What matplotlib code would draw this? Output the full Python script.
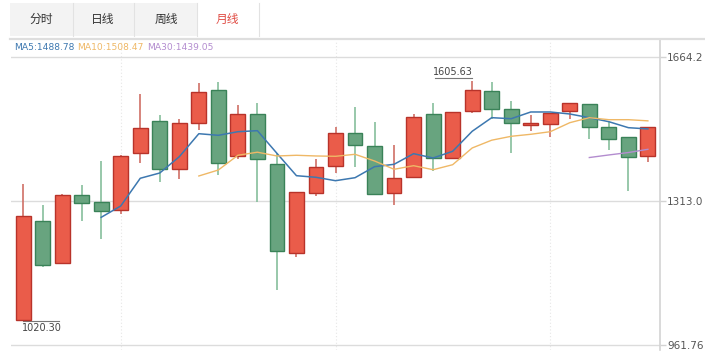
import matplotlib
matplotlib.use("Agg")
import matplotlib.pyplot as plt
from matplotlib.lines import Line2D
from matplotlib.patches import Rectangle

plt.rcParams['font.family'] = ['DejaVu Sans', 'Noto Sans CJK SC']

# monthly candles
opens = [1022.5, 1263.5, 1161.1, 1326.9, 1310.6, 1291.0, 1429.3, 1507.4, 1391.8, 1504.0,
         1583.7, 1422.8, 1525.2, 1403.2, 1186.9, 1333.2, 1398.4, 1478.1, 1447.1, 1333.2,
         1372.3, 1525.2, 1417.9, 1533.2, 1582.0, 1536.6, 1497.6, 1500.8, 1531.8, 1549.6,
         1492.7, 1468.4, 1422.8]
highs = [1354.5, 1302.5, 1329.0, 1351.3, 1409.8, 1424.0, 1574.0, 1522.0, 1512.3, 1600.1,
         1603.2, 1546.4, 1552.7, 1430.1, 1336.0, 1414.7, 1492.7, 1541.5, 1505.0, 1450.3,
         1525.2, 1552.7, 1531.0, 1605.63, 1604.0, 1557.6, 1523.5, 1528.4, 1552.0, 1550.5,
         1505.7, 1469.0, 1493.5]
lows = [1020.30, 1151.3, 1160.0, 1263.5, 1221.1, 1281.3, 1404.9, 1359.3, 1367.4, 1486.2,
        1377.1, 1416.2, 1310.6, 1095.9, 1177.2, 1325.2, 1382.0, 1395.2, 1326.9, 1302.5,
        1371.0, 1386.9, 1414.7, 1528.4, 1513.7, 1429.3, 1483.0, 1468.4, 1512.3, 1463.5,
        1437.4, 1336.7, 1408.1]
closes = [1276.4, 1157.6, 1328.4, 1307.4, 1289.3, 1422.8, 1491.0, 1391.8, 1504.0, 1578.8,
          1404.9, 1525.2, 1416.2, 1190.3, 1335.0, 1395.2, 1478.1, 1450.3, 1328.9, 1369.1,
          1518.6, 1417.9, 1530.1, 1583.7, 1538.1, 1502.5, 1504.0, 1526.9, 1551.3, 1494.2,
          1464.9, 1419.6, 1492.7]

# moving average lines as drawn in the picture (start at candle 5, 10 and 30)
ma5 = [1273.2, 1300.8, 1368.4, 1381.3, 1421.0, 1477.1, 1473.2, 1482.0, 1484.5, 1429.3,
       1374.7, 1370.8, 1362.5, 1369.8, 1396.7, 1402.5, 1428.4, 1417.9, 1434.2, 1483.0,
       1516.2, 1513.7, 1530.1, 1530.1, 1525.2, 1516.2, 1506.4, 1491.8, 1488.78]
ma10 = [1374.0, 1388.6, 1424.5, 1432.0, 1422.8, 1424.5, 1422.8, 1422.0, 1426.9, 1410.6,
        1390.3, 1399.1, 1389.3, 1401.5, 1442.3, 1461.3, 1470.8, 1475.7, 1482.0, 1504.0,
        1516.2, 1511.3, 1511.3, 1508.47]
ma30 = [1419.0, 1425.3, 1431.2, 1439.05]

tabs = ['分时', '日线', '周线', '月线']
y_ticks = [961.76, 1313.0, 1664.2]
y_labels = ['961.76', '1313.0', '1664.2']
ma_labels = ['MA5:1488.78', 'MA10:1508.47', 'MA30:1439.05']

RED, RED_EDGE, RED_WICK = '#ea5c4a', '#b8332a', '#cf7066'
GREEN, GREEN_EDGE, GREEN_WICK = '#68a47f', '#3a8258', '#86bf9c'
MA_COLORS = ['#3d78b0', '#efb866', '#b38ccf']

W, H = 705, 363
fig = plt.figure(figsize=(W / 100, H / 100), dpi=100)

def fx(px):
    return px / W

def fy(py):
    return 1 - py / H

# tab bar
fig.patches.append(Rectangle((fx(10), fy(36)), fx(249), 33 / H, transform=fig.transFigure,
                             facecolor='#f3f3f3', edgecolor='none'))
fig.patches.append(Rectangle((fx(197), fy(36)), fx(62), 33 / H, transform=fig.transFigure,
                             facecolor='white', edgecolor='none'))
for bx in [73, 134, 197, 259]:
    fig.add_artist(Line2D([fx(bx), fx(bx)], [fy(3), fy(36)], color='#e2e2e2', lw=0.8))
tab_x = [41, 103, 166, 227]
for i, t in enumerate(tabs):
    fig.text(fx(tab_x[i]), fy(19), t, ha='center', va='center', fontsize=8.5,
             family=['Noto Sans CJK SC', 'DejaVu Sans'],
             color='#e04b43' if i == 3 else '#333333')
fig.add_artist(Line2D([fx(10), fx(705)], [fy(38.5), fy(38.5)], color='#dedede', lw=1.6))

# legend line
lx = 14
for lab, col in zip(ma_labels, MA_COLORS):
    t = fig.text(fx(lx), fy(47), lab, ha='left', va='center', fontsize=6.6, color=col)
    fig.canvas.draw()
    bb = t.get_window_extent()
    lx += bb.width + 3

# price axes
ax = fig.add_axes([fx(11), fy(350), fx(660 - 11), (350 - 40) / H])
top_p = 1664.2 + 17 * (1664.2 - 961.76) / 288
bot_p = 961.76 - 5 * (1664.2 - 961.76) / 288
ax.set_ylim(bot_p, top_p)
ax.set_xlim(-0.62, len(opens) - 1 + 0.62)

for s in ['top', 'left', 'bottom']:
    ax.spines[s].set_visible(False)
ax.spines['right'].set_color('#d3d3d3')
ax.spines['right'].set_linewidth(1.2)
ax.set_xticks([])
ax.yaxis.tick_right()
ax.set_yticks(y_ticks)
ax.set_yticklabels(y_labels)
ax.tick_params(axis='y', length=4, width=1, color='#d3d3d3', pad=1,
               labelsize=7.5, labelcolor='#555555')
for yv in y_ticks:
    ax.axhline(yv, color='#dcdcdc', lw=1, zorder=0)
for xv in [5, 16, 27]:
    ax.axvline(xv, color='#e6e6e6', lw=0.8, ls=(0, (1, 2)), zorder=0)

for i in range(len(opens)):
    o, h, l, c = opens[i], highs[i], lows[i], closes[i]
    up = c >= o
    ax.vlines(i, l, h, color=RED_WICK if up else GREEN_WICK, lw=1.2, zorder=2)
    ax.bar(i, abs(c - o), bottom=min(o, c), width=0.76,
           color=RED if up else GREEN, edgecolor=RED_EDGE if up else GREEN_EDGE,
           lw=1, zorder=3)

n = len(opens)
ax.plot(range(4, n), ma5, color=MA_COLORS[0], lw=1.1, zorder=4)
ax.plot(range(9, n), ma10, color=MA_COLORS[1], lw=1.0, zorder=4)
ax.plot(range(29, n), ma30, color=MA_COLORS[2], lw=1.0, zorder=4)

# max / min marks
imax = highs.index(max(highs))
ax.plot([imax - 1.9, imax], [highs[imax] + 8, highs[imax] + 8], color='#777777', lw=0.8)
ax.text(imax - 1.0, highs[imax] + 10, '%.2f' % highs[imax], ha='center', va='bottom',
        fontsize=7, color='#444444')
imin = lows.index(min(lows))
ax.plot([imin, imin + 1.85], [lows[imin], lows[imin]], color='#777777', lw=0.8)
ax.text(imin + 0.95, lows[imin] - 4, '%.2f' % lows[imin], ha='center', va='top',
        fontsize=7, color='#444444')

fig.savefig('out.png', dpi=100)
